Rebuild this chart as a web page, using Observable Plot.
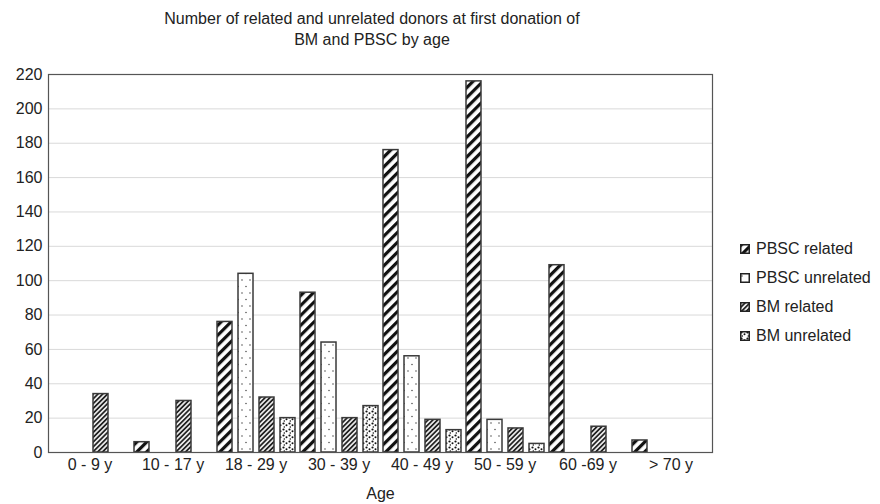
<!DOCTYPE html>
<html>
<head>
<meta charset="utf-8">
<script src="https://cdn.jsdelivr.net/npm/d3@7"></script>
<script src="https://cdn.jsdelivr.net/npm/@observablehq/plot@0.6"></script>
<style>
  body { margin: 0; background: #fff; font-family: "Liberation Sans", Arial, Helvetica, sans-serif; color: #222; }
  #wrap { position: relative; width: 880px; height: 504px; }
  #title { position: absolute; left: 0; top: 8px; width: 744px; text-align: center; font-size: 16px; line-height: 21px; color: #222; }
  #chart { position: absolute; left: 0; top: 56px; }
  #legend { position: absolute; left: 740px; top: 234px; font-size: 16px; color: #222; }
  #legend .row { display: flex; align-items: center; height: 29px; }
  #legend svg { margin-right: 6px; }
</style>
</head>
<body>
<div id="wrap">
  <div id="title">Number of related and unrelated donors at first donation of<br>BM and PBSC by age</div>
  <div id="chart"></div>
  <div id="legend"></div>
</div>
<script>
const ages = ["0 - 9 y", "10 - 17 y", "18 - 29 y", "30 - 39 y", "40 - 49 y", "50 - 59 y", "60 -69 y", "> 70 y"];
const seriesNames = ["PBSC related", "PBSC unrelated", "BM related", "BM unrelated"];
const pbscRelated   = [0, 6, 76, 93, 176, 216, 109, 7];
const pbscUnrelated = [0, 0, 104, 64, 56, 19, 0, 0];
const bmRelated     = [34, 30, 32, 20, 19, 14, 15, 0];
const bmUnrelated   = [0, 0, 20, 27, 13, 5, 0, 0];
const yTicks = [0, 20, 40, 60, 80, 100, 120, 140, 160, 180, 200, 220];

const patternIds = ["pPbscRel", "pPbscUnrel", "pBmRel", "pBmUnrel"];
const patternUrls = patternIds.map(id => `url(#${id})`);

const seriesValues = [pbscRelated, pbscUnrelated, bmRelated, bmUnrelated];
const data = [];
ages.forEach((age, i) => {
  seriesNames.forEach((s, j) => {
    const v = seriesValues[j][i];
    if (v > 0) data.push({age, series: s, value: v});
  });
});

const svg = Plot.plot({
  width: 880,
  height: 448,
  marginLeft: 46,
  marginRight: 167,
  marginTop: 18,
  marginBottom: 52,
  style: {fontSize: "16px", fontFamily: "'Liberation Sans', Arial, Helvetica, sans-serif", color: "#222", background: "transparent"},
  fx: {domain: ages, padding: 0},
  x: {domain: seriesNames, paddingInner: 0.3, paddingOuter: 0.1, axis: null},
  y: {domain: [0, 220]},
  color: {domain: seriesNames, range: patternUrls},
  marks: [
    Plot.gridY(yTicks, {stroke: "#d9d9d9", strokeOpacity: 1, strokeWidth: 1}),
    Plot.barY(data, {fx: "age", x: "series", y: "value", fill: "series", stroke: "#3a3a3a", strokeWidth: 1.5}),
    Plot.frame({facet: "super", stroke: "#555", strokeWidth: 1.2}),
    Plot.axisY(yTicks, {tickSize: 0, tickPadding: 6, label: null, fontSize: 16}),
    Plot.axisFx({anchor: "bottom", tickSize: 0, tickPadding: 6, fontSize: 16, label: "Age", labelAnchor: "center", labelOffset: 46})
  ]
});

d3.select(svg).insert("defs", ":first-child").html(`
  <pattern id="pPbscRel" width="7" height="7" patternUnits="userSpaceOnUse" patternTransform="rotate(45)">
    <rect width="7" height="7" fill="#fff"/>
    <rect width="3.2" height="7" fill="#111"/>
  </pattern>
  <pattern id="pPbscUnrel" width="8" height="13" patternUnits="userSpaceOnUse">
    <rect width="8" height="13" fill="#fff"/>
    <circle cx="2" cy="3" r="0.7" fill="#333"/>
    <circle cx="6" cy="9.5" r="0.7" fill="#333"/>
  </pattern>
  <pattern id="pBmRel" width="3.4" height="3.4" patternUnits="userSpaceOnUse" patternTransform="rotate(45)">
    <rect width="3.4" height="3.4" fill="#e8e8e8"/>
    <rect width="1.7" height="3.4" fill="#222"/>
  </pattern>
  <pattern id="pBmUnrel" width="6" height="6" patternUnits="userSpaceOnUse">
    <rect width="6" height="6" fill="#fff"/>
    <circle cx="1.5" cy="1.5" r="1.1" fill="#111"/>
    <circle cx="4.5" cy="3.3" r="1" fill="#111"/>
    <circle cx="2.3" cy="5" r="0.8" fill="#111"/>
  </pattern>
`);

document.getElementById("chart").appendChild(svg);

const legend = d3.select("#legend");
seriesNames.forEach((s, j) => {
  const row = legend.append("div").attr("class", "row");
  const sw = row.append("svg").attr("width", 10).attr("height", 10);
  sw.append("rect").attr("x", 0.75).attr("y", 0.75).attr("width", 8.5).attr("height", 8.5)
    .attr("fill", patternUrls[j]).attr("stroke", "#222").attr("stroke-width", 1.5);
  row.append("span").text(s);
});
</script>
</body>
</html>
